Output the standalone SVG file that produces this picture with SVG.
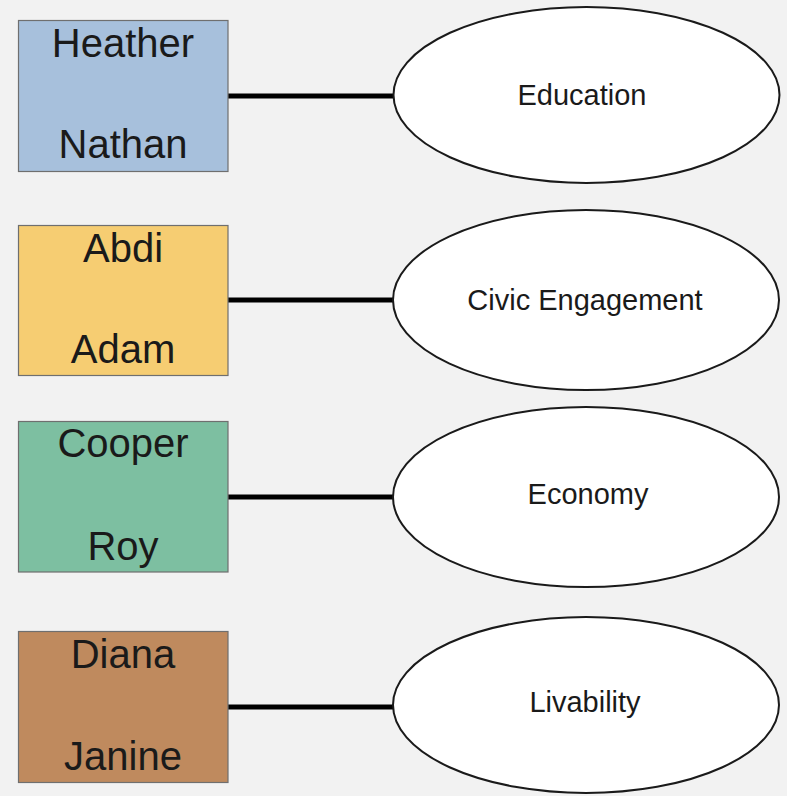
<svg xmlns="http://www.w3.org/2000/svg" width="787" height="796" viewBox="0 0 787 796">
<style>
.box{stroke:#6f6f6f;stroke-width:1.2}
.name{font-family:"Liberation Sans",Arial,sans-serif;font-size:40px;fill:#1a1a1a;text-anchor:middle}
.ell{fill:#ffffff;stroke:#1a1a1a;stroke-width:2}
.lbl{font-family:"Liberation Sans",Arial,sans-serif;font-size:29px;fill:#1a1a1a;text-anchor:middle}
.conn{stroke:#000;stroke-width:5;fill:none}
</style>
<rect x="0" y="0" width="787" height="796" fill="#f2f2f2"/>
<g id="connectors">
<line class="conn" x1="228" y1="96" x2="394" y2="96"/>
<line class="conn" x1="228" y1="300" x2="394" y2="300"/>
<line class="conn" x1="228" y1="497" x2="394" y2="497"/>
<line class="conn" x1="228" y1="707" x2="394" y2="707"/>
</g>
<g id="team1">
<rect class="box" x="18.5" y="20.5" width="209.5" height="151" fill="#a7c0dc"/>
<text class="name" x="123" y="57">Heather</text>
<text class="name" x="123" y="158">Nathan</text>
</g>
<g id="team2">
<rect class="box" x="18.5" y="225.5" width="209.5" height="150" fill="#f6cd72"/>
<text class="name" x="123" y="262">Abdi</text>
<text class="name" x="123" y="363">Adam</text>
</g>
<g id="team3">
<rect class="box" x="18.5" y="421.5" width="209.5" height="150.5" fill="#7dbfa1"/>
<text class="name" x="123" y="457">Cooper</text>
<text class="name" x="123" y="560">Roy</text>
</g>
<g id="team4">
<rect class="box" x="18.5" y="631.5" width="209.5" height="151" fill="#bf8a5e"/>
<text class="name" x="123" y="668">Diana</text>
<text class="name" x="123" y="770">Janine</text>
</g>
<g id="education">
<ellipse class="ell" cx="586.5" cy="95" rx="193" ry="88"/>
<text class="lbl" x="582" y="105">Education</text>
</g>
<g id="civic">
<ellipse class="ell" cx="586" cy="300" rx="193" ry="90"/>
<text class="lbl" x="585" y="310">Civic Engagement</text>
</g>
<g id="economy">
<ellipse class="ell" cx="586" cy="497" rx="193" ry="90"/>
<text class="lbl" x="588" y="504">Economy</text>
</g>
<g id="livability">
<ellipse class="ell" cx="586" cy="705" rx="193" ry="88"/>
<text class="lbl" x="585" y="712">Livability</text>
</g>
</svg>
